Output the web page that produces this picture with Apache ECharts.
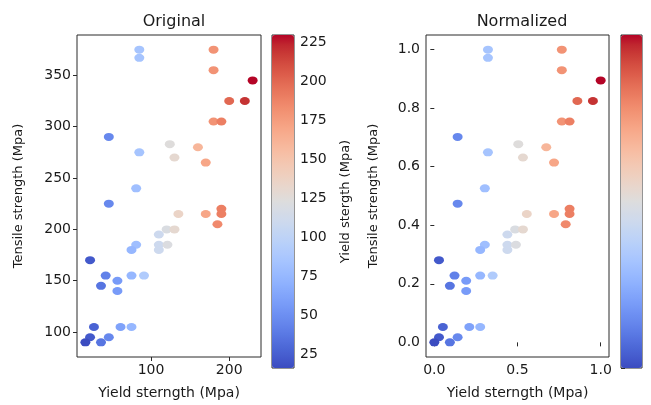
<!DOCTYPE html>
<html>
<head>
<meta charset="utf-8">
<style>
  html, body { margin: 0; padding: 0; background: #fff; }
  #chart { width: 651px; height: 405px; }
</style>
<script src="https://cdn.jsdelivr.net/npm/echarts@6/dist/echarts.min.js"></script>
</head>
<body>
<div id="chart"></div>
<script>
// Yield strength vs tensile strength of the samples (MPa)
const yieldStrength = [
  85, 85, 180, 180, 230, 200, 220, 180, 190, 46,
  124, 160, 85, 130, 170, 81, 46, 190, 135, 170,
  190, 185, 110, 120, 130, 81, 75, 110, 121, 110,
  22, 42, 75, 91, 57, 36, 57, 27, 61, 75,
  22, 46, 16, 36
];
const tensileStrength = [
  375, 367, 375, 355, 345, 325, 325, 305, 305, 290,
  283, 280, 275, 270, 265, 240, 225, 220, 215, 215,
  215, 205, 195, 200, 200, 185, 180, 185, 185, 180,
  170, 155, 155, 155, 150, 145, 140, 105, 105, 105,
  95, 95, 90, 90
];
const rawXTicks = [100, 200];
const rawYTicks = [100, 150, 200, 250, 300, 350];
const rawBarTicks = [25, 50, 75, 100, 125, 150, 175, 200, 225];
const normXTicks = [0, 0.5, 1.0];
const normYTicks = [0, 0.2, 0.4, 0.6, 0.8, 1.0];
const normBarTicks = [0, 0.2, 0.4, 0.6, 0.8, 1.0];

// matplotlib "coolwarm" colormap stops
const coolwarm = [
  '#3b4cc0','#445acc','#4d68d7','#5775e1','#6282ea','#6c8ef1','#779af7','#82a5fb',
  '#8db0fe','#98b9ff','#a3c2ff','#aec9fd','#b8d0f9','#c2d5f4','#ccd9ee','#d5dbe6',
  '#dddddd','#e5d8d1','#ecd3c5','#f1ccb9','#f5c4ad','#f7bba0','#f7b194','#f7a687',
  '#f49a7b','#f18d6f','#ec7f63','#e57058','#de604d','#d55042','#cb3e38','#c0282f',
  '#b40426'
];

const xMin = Math.min(...yieldStrength), xMax = Math.max(...yieldStrength);
const yMin = Math.min(...tensileStrength), yMax = Math.max(...tensileStrength);

const rawData = yieldStrength.map((x, i) => [x, tensileStrength[i]]);
// min-max normalisation of both quantities
const normData = yieldStrength.map((x, i) => [
  (x - xMin) / (xMax - xMin),
  (tensileStrength[i] - yMin) / (yMax - yMin)
]);

function pad(lo, hi) {
  const m = 0.05 * (hi - lo);
  return [lo - m, hi + m];
}
const rawXLim = pad(xMin, xMax), rawYLim = pad(yMin, yMax);
const normLim = pad(0, 1);

const FONT = 'DejaVu Sans';
const txt = '#1a1a1a';
const tickStyle = { show: true, inside: false, length: 4, lineStyle: { color: '#2a2a2a', width: 1 } };
const labelStyle = { color: txt, fontFamily: FONT, fontSize: 14, margin: 6 };
const xNameStyle = { color: txt, fontFamily: FONT, fontSize: 14 };
const yNameStyle = { color: txt, fontFamily: FONT, fontSize: 13 };
const frame = { show: true, borderColor: '#2a2a2a', borderWidth: 1, backgroundColor: 'transparent' };

function valueAxis(gridIndex, lim, ticks, extra) {
  return Object.assign({
    type: 'value', gridIndex, min: lim[0], max: lim[1],
    axisLine: { show: false },
    splitLine: { show: false },
    axisTick: Object.assign({}, tickStyle, { customValues: ticks }),
    axisLabel: Object.assign({}, labelStyle, {
      customValues: ticks,
      formatter: v => extra && extra.fmt ? extra.fmt(v) : String(v)
    })
  }, extra ? extra.opts : {});
}

const chart = echarts.init(document.getElementById('chart'), null, { renderer: 'canvas' });
chart.setOption({
  backgroundColor: '#fff',
  animation: false,
  title: [
    { text: 'Original', left: 169, top: 9, textAlign: 'center',
      textStyle: { fontFamily: FONT, fontSize: 16, fontWeight: 'normal', color: txt } },
    { text: 'Normalized', left: 517, top: 9, textAlign: 'center',
      textStyle: { fontFamily: FONT, fontSize: 16, fontWeight: 'normal', color: txt } }
  ],
  grid: [
    Object.assign({ left: 77, top: 35, width: 184, height: 332 }, frame),
    Object.assign({ left: 272, top: 35, width: 22, height: 333 }, frame),
    Object.assign({ left: 426, top: 35, width: 183, height: 332 }, frame),
    Object.assign({ left: 621, top: 35, width: 21, height: 333 }, frame)
  ],
  xAxis: [
    valueAxis(0, rawXLim, rawXTicks, { opts: {
      name: 'Yield sterngth (Mpa)', nameLocation: 'middle', nameGap: 29, nameTextStyle: xNameStyle } }),
    { type: 'value', gridIndex: 1, show: false, min: 0, max: 1 },
    valueAxis(2, normLim, normXTicks, { fmt: v => v.toFixed(1), opts: {
      name: 'Yield sterngth (Mpa)', nameLocation: 'middle', nameGap: 29, nameTextStyle: xNameStyle } }),
    { type: 'value', gridIndex: 3, show: false, min: 0, max: 1 }
  ],
  yAxis: [
    valueAxis(0, rawYLim, rawYTicks, { opts: {
      name: 'Tensile strength (Mpa)', nameLocation: 'middle', nameGap: 52, nameTextStyle: yNameStyle } }),
    valueAxis(1, [xMin, xMax], rawBarTicks, { opts: {
      position: 'right',
      name: 'Yield stergth (Mpa)', nameLocation: 'middle', nameGap: 45, nameRotate: 90,
      nameTextStyle: yNameStyle } }),
    valueAxis(2, normLim, normYTicks, { fmt: v => v.toFixed(1), opts: {
      name: 'Tensile strength (Mpa)', nameLocation: 'middle', nameGap: 46, nameTextStyle: yNameStyle } }),
    valueAxis(3, [0, 1], normBarTicks, { opts: {
      position: 'right', axisLabel: { show: false } } })
  ],
  visualMap: [
    { type: 'continuous', seriesIndex: 0, dimension: 0, min: xMin, max: xMax,
      left: 272, top: 35, itemWidth: 22, itemHeight: 333, padding: 0,
      calculable: false, realtime: false, text: null, showLabel: false,
      hoverLink: false, inRange: { color: coolwarm } },
    { type: 'continuous', seriesIndex: 1, dimension: 0, min: 0, max: 1,
      left: 621, top: 35, itemWidth: 21, itemHeight: 333, padding: 0,
      calculable: false, realtime: false, text: null, showLabel: false,
      hoverLink: false, inRange: { color: coolwarm } }
  ],
  series: [
    { type: 'scatter', xAxisIndex: 0, yAxisIndex: 0, data: rawData,
      symbol: 'circle', symbolSize: [10, 8], itemStyle: { opacity: 1 } },
    { type: 'scatter', xAxisIndex: 2, yAxisIndex: 2, data: normData,
      symbol: 'circle', symbolSize: [10, 8], itemStyle: { opacity: 1 } }
  ]
});
</script>
</body>
</html>
